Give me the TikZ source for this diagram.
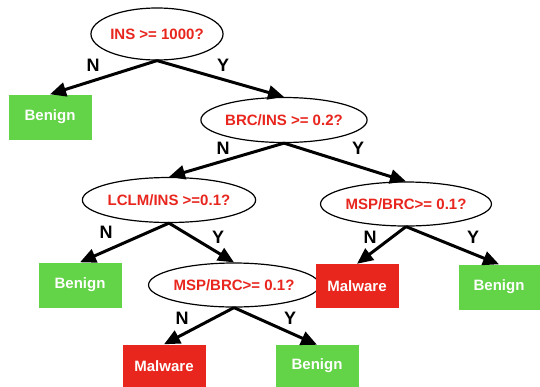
\documentclass[tikz,border=0pt]{standalone}
\usepackage{fontspec}
\setmainfont{Liberation Sans}
\usetikzlibrary{shapes.geometric,arrows.meta}
\definecolor{benignColor}{RGB}{99,211,72}
\definecolor{malwareColor}{RGB}{232,38,30}
\tikzstyle{tree} = [x = 1pt, y = -1pt]
\tikzstyle{testStyle} = [ellipse, draw=black, line width=1.2pt, fill=white, inner sep=0pt, text=malwareColor, font=\fontsize{15}{18}\bfseries\selectfont]
\tikzstyle{leafStyle} = [rectangle, inner sep=0pt, minimum width=83pt, minimum height=45pt, text=white, font=\fontsize{15}{18}\bfseries\selectfont]
\tikzstyle{benignStyle} = [leafStyle, fill=benignColor]
\tikzstyle{malwareStyle} = [leafStyle, fill=malwareColor]
\tikzstyle{branchStyle} = [line width=3pt, -{Triangle[length=16pt, width=14pt]}]
\tikzstyle{answerText} = [inner sep=0pt, font=\fontsize{18}{20}\bfseries\selectfont]
\newcommand{\branch}[2]{\draw [branchStyle] (#1.south) -- (#2.north);}

\begin{document}
\begin{tikzpicture}[tree]
  \useasboundingbox (0,0) rectangle (540,386);

  % tests
  \node [testStyle, minimum width=130pt, minimum height=52pt] (insTest) at (157,34) {INS >= 1000?};
  \node [testStyle, minimum width=126pt, minimum height=45pt] (brcTest) at (284,120) {BRC/INS >= 0.2?};
  \node [testStyle, minimum width=142pt, minimum height=45pt] (lclmTest) at (169,200) {LCLM/INS >=0.1?};
  \node [testStyle, minimum width=128pt, minimum height=44pt] (mspRight) at (406,204) {MSP/BRC>= 0.1?};
  \node [testStyle, minimum width=127pt, minimum height=44pt] (mspLeft) at (234,285) {MSP/BRC>= 0.1?};

  % leaves
  \node [benignStyle] (benignA) at (50,117) {Benign};
  \node [benignStyle] (benignB) at (80,285) {Benign};
  \node [malwareStyle, minimum height=43pt] (malwareA) at (164,366) {Malware};
  \node [benignStyle, minimum height=42pt] (benignC) at (317,366) {Benign};
  \node [malwareStyle, minimum height=44pt] (malwareB) at (357,286) {Malware};
  \node [benignStyle, minimum width=81pt] (benignD) at (499,287) {Benign};

  % branches
  \branch{insTest}{benignA}
  \branch{insTest}{brcTest}
  \branch{brcTest}{lclmTest}
  \branch{brcTest}{mspRight}
  \branch{lclmTest}{benignB}
  \branch{lclmTest}{mspLeft}
  \branch{mspLeft}{malwareA}
  \branch{mspLeft}{benignC}
  \branch{mspRight}{malwareB}
  \branch{mspRight}{benignD}

  % answers
  \node [answerText] (insNo) at (93,65) {N};
  \node [answerText] (insYes) at (223,65) {Y};
  \node [answerText] (brcNo) at (223,148) {N};
  \node [answerText] (brcYes) at (358,148) {Y};
  \node [answerText] (lclmNo) at (106,232) {N};
  \node [answerText] (lclmYes) at (218,237) {Y};
  \node [answerText] (mspRightNo) at (370,237) {N};
  \node [answerText] (mspRightYes) at (473,237) {Y};
  \node [answerText] (mspLeftNo) at (182,318) {N};
  \node [answerText] (mspLeftYes) at (290,318) {Y};
\end{tikzpicture}
\end{document}
